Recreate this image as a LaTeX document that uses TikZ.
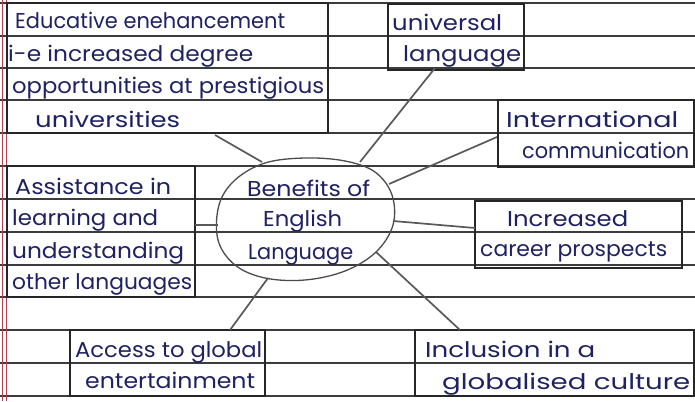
\documentclass[tikz,border=0pt]{standalone}
\usepackage{fontspec}
\usepackage{graphicx}
\newfontfamily\hand{Poppins}
\definecolor{ink}{HTML}{1E2262}
\definecolor{rule}{HTML}{3C3C3C}
\definecolor{margin}{HTML}{B04050}
\newcommand\hw[2]{\resizebox{#1pt}{\height}{\hand\fontsize{21.5}{24}\selectfont #2}}
\begin{document}
\begin{tikzpicture}[x=1pt,y=-1pt,
  box/.style={draw=black!85,line width=1.6pt,anchor=north west,inner sep=0pt,outer sep=0pt},
  txt/.style={anchor=base west,inner sep=0pt,text=ink},
  conn/.style={draw=black!65,line width=1.7pt},
  oval/.style={draw=black!70,line width=1.3pt},
  ruled/.style={draw=rule,line width=1.1pt}]
\useasboundingbox (0,0) rectangle (695,401);
\fill[white] (0,0) rectangle (695,401);
% ruled paper
\foreach \yy in {3,36,68,100,133,166,199,232,265,297,330,363,396}
  \draw[ruled] (0,\yy) -- (695,\yy);
\draw[margin,line width=0.8pt] (2,0) -- (2,401);
\draw[margin,line width=0.8pt] (6,0) -- (6,401);
% boxes
\node[box,minimum width=321pt,minimum height=130pt] (b1) at (7,3) {};
\node[box,minimum width=136pt,minimum height=66pt] (b2) at (388,4) {};
\node[box,minimum width=196pt,minimum height=67pt] (b3) at (498,100) {};
\node[box,minimum width=207pt,minimum height=67pt] (b4) at (475,201) {};
\node[box,minimum width=188pt,minimum height=131pt] (b5) at (7,166) {};
\node[box,minimum width=195pt,minimum height=66pt] (b6) at (70,330) {};
\node[box,minimum width=279pt,minimum height=66pt] (b7) at (415,330) {};
% central oval
\draw[oval] plot[smooth cycle,tension=0.6] coordinates {(305,158) (345,161) (375,172) (392,195) (393,225) (376,252) (345,271) (305,280) (265,278) (235,265) (218,240) (219,205) (235,180) (265,163)};
% texts
\node[txt] (t1) at (15,29) {\hw{270}{Educative enehancement}};
\node[txt] (t2) at (8,62) {\hw{245}{i-e increased degree}};
\node[txt] (t3) at (12,94) {\hw{312}{opportunities at prestigious}};
\node[txt] (t4) at (35,127) {\hw{145}{universities}};
\node[txt] (t5) at (392,31) {\hw{110}{universal}};
\node[txt] (t6) at (403,62) {\hw{118}{language}};
\node[txt] (t7) at (506,128) {\hw{172}{International}};
\node[txt] (t8) at (522,158) {\hw{167}{communication}};
\node[txt] (t9) at (507,226) {\hw{121}{Increased}};
\node[txt] (t10) at (480,256) {\hw{187}{career prospects}};
\node[txt] (t11) at (15,194) {\hw{156}{Assistance in}};
\node[txt] (t12) at (12,225) {\hw{146}{learning and}};
\node[txt] (t13) at (12,258) {\hw{172}{understanding}};
\node[txt] (t14) at (12,289) {\hw{180}{other languages}};
\node[txt] (t15) at (247,196) {\hw{123}{Benefits of}};
\node[txt] (t16) at (263,226) {\hw{79}{English}};
\node[txt] (t17) at (248,259) {\hw{105}{Language}};
\node[txt] (t18) at (75,357) {\hw{187}{Access to global}};
\node[txt] (t19) at (85,388) {\hw{170}{entertainment}};
\node[txt] (t20) at (425,357) {\hw{170}{Inclusion in a}};
\node[txt] (t21) at (442,389) {\hw{248}{globalised culture}};
% connector end points
\coordinate (p1) at (215,135); \coordinate (q1) at (262,162);
\coordinate (p2) at (435,68);  \coordinate (q2) at (360,162);
\coordinate (p3) at (497,137); \coordinate (q3) at (389,184);
\coordinate (p4) at (475,228); \coordinate (q4) at (393,221);
\coordinate (p5) at (195,225); \coordinate (q5) at (218,225);
\coordinate (p6) at (230,330); \coordinate (q6) at (268,278);
\coordinate (p7) at (460,330); \coordinate (q7) at (376,252);
\draw[conn] (p1) -- (q1);
\draw[conn] (p2) -- (q2);
\draw[conn] (p3) -- (q3);
\draw[conn] (p4) -- (q4);
\draw[conn] (p5) -- (q5);
\draw[conn] (p6) -- (q6);
\draw[conn] (p7) -- (q7);
\end{tikzpicture}
\end{document}
